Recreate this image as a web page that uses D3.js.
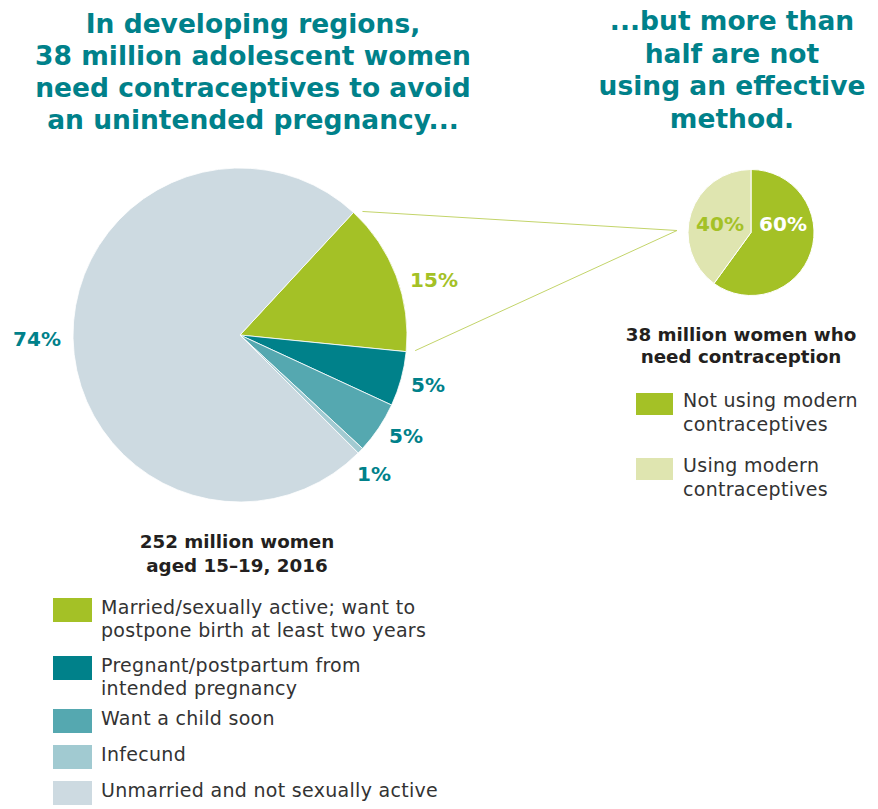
<!DOCTYPE html>
<html>
<head>
<meta charset="utf-8">
<script src="https://cdn.jsdelivr.net/npm/d3@7"></script>
<style>
  body { margin: 0; background: #fff; }
  svg { display: block; font-family: "DejaVu Sans", sans-serif; }
  .title { fill: #00818a; font-weight: 700; font-size: 26.5px; }
  .sub { fill: #231f20; font-weight: 700; font-size: 18.3px; }
  .leg { fill: #333333; font-size: 19px; letter-spacing: 0.3px; }
  .pct { font-weight: 700; font-size: 20px; }
</style>
</head>
<body>
<svg id="chart" width="878" height="809"></svg>
<script>
var categories = ["Married/sexually active; want to postpone birth at least two years",
  "Pregnant/postpartum from intended pregnancy",
  "Want a child soon",
  "Infecund",
  "Unmarried and not sexually active"];
var legendLines = [
  ["Married/sexually active; want to", "postpone birth at least two years"],
  ["Pregnant/postpartum from", "intended pregnancy"],
  ["Want a child soon"],
  ["Infecund"],
  ["Unmarried and not sexually active"]];
var shares = [14.7, 5.3, 5.0, 0.6, 74.4];
var shareLabels = ["15%", "5%", "5%", "1%", "74%"];
var colors = ["#a4c126", "#00818a", "#55a8b0", "#a1cad1", "#cddae1"];

var needCategories = ["Not using modern contraceptives", "Using modern contraceptives"];
var needLegendLines = [["Not using modern", "contraceptives"], ["Using modern", "contraceptives"]];
var needShares = [60, 40];
var needLabels = ["60%", "40%"];
var needColors = ["#a4c126", "#dfe5b0"];

var leftTitle = ["In developing regions,", "38 million adolescent women",
  "need contraceptives to avoid", "an unintended pregnancy..."];
var rightTitle = ["...but more than", "half are not", "using an effective", "method."];

var svg = d3.select("#chart");

function translate(x, y) {
  return "translate(" + x + "," + y + ")";
}

// titles
svg.append("g").selectAll("text")
  .data(leftTitle)
  .enter().append("text")
  .attr("class", "title")
  .attr("text-anchor", "middle")
  .attr("x", 253)
  .attr("y", function(d, i) { return 33 + i * 32; })
  .text(function(d) { return d; });

svg.append("g").selectAll("text")
  .data(rightTitle)
  .enter().append("text")
  .attr("class", "title")
  .attr("text-anchor", "middle")
  .attr("x", 732)
  .attr("y", function(d, i) { return 30 + i * 32.7; })
  .text(function(d) { return d; });

// big pie
var bigCx = 240, bigCy = 335, bigR = 167;
var startA = 42.8 * Math.PI / 180;
var bigPie = d3.pie().sort(null).value(function(d) { return d; })
  .startAngle(startA).endAngle(startA + 2 * Math.PI);
var bigArc = d3.arc().innerRadius(0).outerRadius(bigR);
var bigArcs = bigPie(shares);

// connector lines from green slice to small pie
var smallCx = 751, smallCy = 232.5, smallR = 63;
var greenSlice = bigArcs[0];
var apex = [smallCx - smallR - 11, smallCy - 2];
var ends = [greenSlice.startAngle, greenSlice.endAngle];
svg.append("g").selectAll("line")
  .data(ends)
  .enter().append("line")
  .attr("x1", function(a) { return bigCx + bigR * Math.sin(a) + 9; })
  .attr("y1", function(a) { return bigCy - bigR * Math.cos(a) - 1; })
  .attr("x2", apex[0])
  .attr("y2", apex[1])
  .attr("stroke", "#c3d46a")
  .attr("stroke-width", 1);

var bigG = svg.append("g").attr("transform", translate(bigCx, bigCy));
bigG.selectAll("path")
  .data(bigArcs)
  .enter().append("path")
  .attr("d", bigArc)
  .attr("fill", function(d, i) { return colors[i]; })
  .attr("stroke", "#fff")
  .attr("stroke-width", 0.8);

var labelPos = [[194, -55], [188, 50], [166, 101], [134, 139], [-203, 4]];
bigG.selectAll("text")
  .data(bigArcs)
  .enter().append("text")
  .attr("class", "pct")
  .attr("text-anchor", "middle")
  .attr("dy", "0.36em")
  .attr("x", function(d, i) { return labelPos[i][0]; })
  .attr("y", function(d, i) { return labelPos[i][1]; })
  .attr("fill", function(d, i) { return i === 0 ? "#a4c126" : "#00818a"; })
  .text(function(d, i) { return shareLabels[i]; });

// small pie
var smallPie = d3.pie().sort(null).value(function(d) { return d; });
var smallArc = d3.arc().innerRadius(0).outerRadius(smallR);
var smallG = svg.append("g").attr("transform", translate(smallCx, smallCy));
smallG.selectAll("path")
  .data(smallPie(needShares))
  .enter().append("path")
  .attr("d", smallArc)
  .attr("fill", function(d, i) { return needColors[i]; })
  .attr("stroke", "#fff")
  .attr("stroke-width", 1);

var smallLabelX = [32, -31];
smallG.selectAll("text")
  .data(needLabels)
  .enter().append("text")
  .attr("class", "pct")
  .attr("text-anchor", "middle")
  .attr("dy", "0.36em")
  .attr("x", function(d, i) { return smallLabelX[i]; })
  .attr("y", -9)
  .attr("fill", function(d, i) { return i === 0 ? "#ffffff" : "#a4c126"; })
  .text(function(d) { return d; });

// subtitles
svg.append("g").selectAll("text")
  .data(["252 million women", "aged 15\u201319, 2016"])
  .enter().append("text")
  .attr("class", "sub")
  .attr("text-anchor", "middle")
  .attr("x", 237)
  .attr("y", function(d, i) { return 548 + i * 24; })
  .text(function(d) { return d; });

svg.append("g").selectAll("text")
  .data(["38 million women who", "need contraception"])
  .enter().append("text")
  .attr("class", "sub")
  .attr("text-anchor", "middle")
  .attr("x", 741)
  .attr("y", function(d, i) { return 341 + i * 22; })
  .text(function(d) { return d; });

// left legend
var legTop = [598, 656, 709, 745, 781];
var leftItems = svg.append("g").selectAll("g")
  .data(categories)
  .enter().append("g")
  .attr("transform", function(d, i) { return translate(53, legTop[i]); });
leftItems.append("rect")
  .attr("width", 39)
  .attr("height", 24)
  .attr("fill", function(d, i) { return colors[i]; });
leftItems.each(function(d, i) {
  d3.select(this).selectAll("text")
    .data(legendLines[i])
    .enter().append("text")
    .attr("class", "leg")
    .attr("x", 48)
    .attr("y", function(t, j) { return 16 + j * 23; })
    .text(function(t) { return t; });
});

// right legend
var needTop = [393, 458];
var rightItems = svg.append("g").selectAll("g")
  .data(needCategories)
  .enter().append("g")
  .attr("transform", function(d, i) { return translate(636, needTop[i]); });
rightItems.append("rect")
  .attr("width", 37)
  .attr("height", 22)
  .attr("fill", function(d, i) { return needColors[i]; });
rightItems.each(function(d, i) {
  d3.select(this).selectAll("text")
    .data(needLegendLines[i])
    .enter().append("text")
    .attr("class", "leg")
    .attr("x", 47)
    .attr("y", function(t, j) { return 14 + j * 23.5; })
    .text(function(t) { return t; });
});
</script>
</body>
</html>
